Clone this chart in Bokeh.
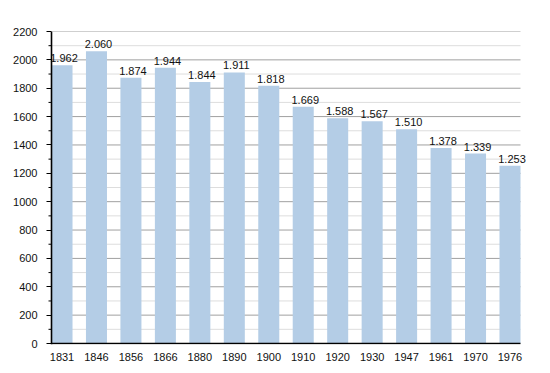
from bokeh.plotting import figure
from bokeh.models import ColumnDataSource, FixedTicker, Range1d, Label, Span
from bokeh.embed import file_html
from bokeh.resources import INLINE

years = ["1831", "1846", "1856", "1866", "1880", "1890", "1900", "1910",
         "1920", "1930", "1947", "1961", "1970", "1976"]
population = [1962, 2060, 1874, 1944, 1844, 1911, 1818, 1669, 1588, 1567,
              1510, 1378, 1339, 1253]
y_ticks = list(range(0, 2201, 200))
y_minor = list(range(100, 2201, 200))

bar_w = 0.61
n = len(years)
xs = list(range(n))
labels = ["{:,}".format(v).replace(",", ".") for v in population]
src = ColumnDataSource(dict(x=xs, top=population, lab=labels))

# layout (pixels)
W, H = 542, 365
AX_L, AX_R = 51, 520        # drawn axis extent
FR_L, FR_R = 46, 532        # frame extent (wider so texts are not clipped)
FR_T, FR_B = 31, 344
x0, x1 = -bar_w / 2, n - 1 + bar_w / 2
ppu = (AX_R - AX_L) / (x1 - x0)
y_px = (343 - FR_T) / 2200.0

FONT = "Liberation Sans"
p = figure(width=W, height=H, output_backend="svg", toolbar_location=None,
           x_range=Range1d(x0 - (AX_L - FR_L) / ppu, x1 + (FR_R - AX_R) / ppu),
           y_range=Range1d(-(FR_B - 343) / y_px, 2200),
           min_border_left=FR_L, min_border_right=W - FR_R,
           min_border_top=FR_T, min_border_bottom=H - FR_B)
p.outline_line_color = None
p.background_fill_color = "white"
p.xgrid.grid_line_color = None
p.ygrid.grid_line_color = None

# grid lines limited to the bar area
p.segment(x0=[x0] * len(y_minor), x1=[x1] * len(y_minor), y0=y_minor,
          y1=y_minor, line_color="#dddddd", line_width=1)
p.segment(x0=[x0] * (len(y_ticks) - 1), x1=[x1] * (len(y_ticks) - 1),
          y0=y_ticks[1:], y1=y_ticks[1:], line_color="#a0a0a0", line_width=1)

p.vbar(x="x", top="top", width=bar_w, bottom=0, source=src,
       fill_color="#b4cde6", line_color=None)

# axis lines
p.segment(x0=[x0], x1=[x1], y0=[0], y1=[0], line_color="black", line_width=1.6)
p.add_layout(Span(location=x0, dimension="height", line_color="black",
                  line_width=1.6))

for xv, top, lab in zip(xs, population, labels):
    p.add_layout(Label(x=xv, y=top, text=lab, text_align="center",
                       text_baseline="bottom", y_offset=3, x_offset=2,
                       text_font=FONT, text_font_size="11px",
                       text_color="#111111"))

# x axis
p.xaxis.ticker = FixedTicker(ticks=xs)
p.xaxis.major_label_overrides = {i: y for i, y in enumerate(years)}
p.xaxis.major_tick_line_color = None
p.xaxis.minor_tick_line_color = None
p.xaxis.axis_line_color = None
p.xaxis.major_label_text_font = FONT
p.xaxis.major_label_text_font_size = "11px"
p.xaxis.major_label_text_color = "#111111"
p.xaxis.major_label_standoff = 2

# y axis (ticks drawn inward from frame edge up to the drawn axis line)
p.yaxis.ticker = FixedTicker(ticks=y_ticks, minor_ticks=y_minor)
p.yaxis.axis_line_color = None
p.yaxis.major_tick_in = AX_L - FR_L
p.yaxis.major_tick_out = 0
p.yaxis.minor_tick_in = 3
p.yaxis.minor_tick_out = 0
p.yaxis.major_tick_line_color = "black"
p.yaxis.minor_tick_line_color = None
p.yaxis.major_label_text_font = FONT
p.yaxis.major_label_text_font_size = "11px"
p.yaxis.major_label_text_color = "#111111"
p.yaxis.major_label_standoff = 9

# minor ticks just left of the axis line
p.segment(x0=[x0 - 3 / ppu] * len(y_minor), x1=[x0] * len(y_minor),
          y0=y_minor, y1=y_minor, line_color="black", line_width=1)

open("out.html", "w").write(file_html(p, INLINE))
